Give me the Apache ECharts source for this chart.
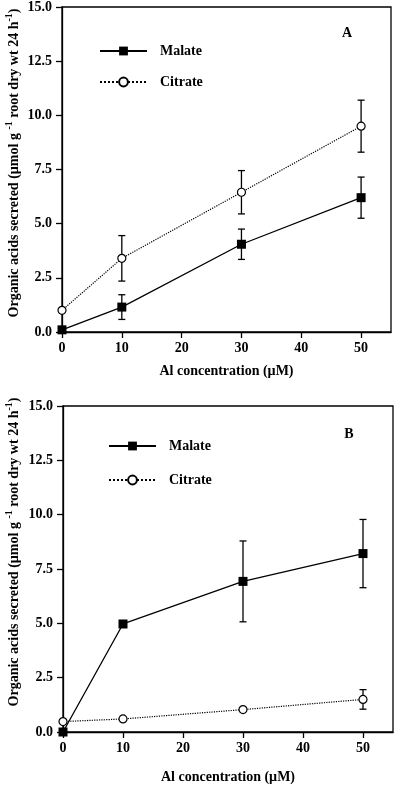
<!DOCTYPE html>
<html>
<head>
<meta charset="utf-8">
<script src="https://cdn.jsdelivr.net/npm/echarts@6/dist/echarts.min.js"></script>
<style>
html,body{margin:0;padding:0;background:#fff;}
#c{width:400px;height:788px;}
</style>
</head>
<body>
<div id="c"></div>
<script>
// Al concentration (µM)
const conc = [0, 10, 30, 50];
const xTicks = [0, 10, 20, 30, 40, 50];
// Panel A
const malateA = [0.1, 1.15, 4.05, 6.2];
const malateErrA = [0, 0.57, 0.7, 0.95];
const citrateA = [1.0, 3.4, 6.45, 9.5];
const citrateErrA = [0, 1.05, 1.0, 1.2];
// Panel B
const malateB = [0.0, 4.97, 6.93, 8.21];
const malateErrB = [0, 0, 1.86, 1.57];
const citrateB = [0.48, 0.6, 1.03, 1.5];
const citrateErrB = [0, 0, 0, 0.45];

const FONT = '"Liberation Serif", "Times New Roman", serif';

function pts(vals) { return conc.map((c, i) => [c, vals[i]]); }
function errs(vals, e) { return conc.map((c, i) => [c, vals[i] - e[i], vals[i] + e[i], e[i]]); }

function errRender(params, api) {
  const e = api.value(3);
  if (!e) return null;
  const x = api.value(0);
  const top = api.coord([x, api.value(2)]);
  const bot = api.coord([x, api.value(1)]);
  const w = 3.5;
  const st = { stroke: '#000', lineWidth: 1.3 };
  return {
    type: 'group',
    children: [
      { type: 'line', shape: { x1: top[0], y1: top[1], x2: bot[0], y2: bot[1] }, style: st },
      { type: 'line', shape: { x1: top[0] - w, y1: top[1], x2: top[0] + w, y2: top[1] }, style: st },
      { type: 'line', shape: { x1: bot[0] - w, y1: bot[1], x2: bot[0] + w, y2: bot[1] }, style: st }
    ]
  };
}

function xAxisFor(gi, gap) {
  return {
    type: 'value', gridIndex: gi, min: 0, max: 55,
    name: 'Al concentration (µM)', nameLocation: 'middle', nameGap: gap,
    nameTextStyle: { fontFamily: FONT, fontWeight: 'bold', fontSize: 14, color: '#000' },
    splitLine: { show: false },
    axisLine: { lineStyle: { color: '#000', width: 1.3 } },
    axisTick: { show: true, length: 6, inside: false, customValues: xTicks, lineStyle: { color: '#000', width: 1.3 } },
    axisLabel: { customValues: xTicks, margin: 9, fontFamily: FONT, fontWeight: 'bold', fontSize: 14, color: '#000' }
  };
}
function yAxisFor(gi) {
  return {
    type: 'value', gridIndex: gi, min: 0, max: 15, interval: 2.5,
    splitLine: { show: false },
    axisLine: { show: true, lineStyle: { color: '#000', width: 1.3 } },
    axisTick: { show: true, length: 6, inside: false, lineStyle: { color: '#000', width: 1.3 } },
    axisLabel: { margin: 10, fontFamily: FONT, fontWeight: 'bold', fontSize: 14, color: '#000',
      formatter: v => v.toFixed(1) }
  };
}

function malateSeries(gi, vals) {
  return {
    name: 'Malate', type: 'line', xAxisIndex: gi, yAxisIndex: gi, data: pts(vals),
    symbol: 'rect', symbolSize: 9, clip: false, z: 5,
    lineStyle: { color: '#000', width: 1.3, type: 'solid' },
    itemStyle: { color: '#000' }
  };
}
function citrateSeries(gi, vals) {
  return {
    name: 'Citrate', type: 'line', xAxisIndex: gi, yAxisIndex: gi, data: pts(vals),
    symbol: 'circle', symbolSize: 8, clip: false, z: 5,
    lineStyle: { color: '#000', width: 1.2, type: 'dotted' },
    itemStyle: { color: '#fff', borderColor: '#000', borderWidth: 1.2 }
  };
}
function errSeries(gi, vals, e) {
  return {
    type: 'custom', xAxisIndex: gi, yAxisIndex: gi, data: errs(vals, e),
    renderItem: errRender, clip: false, z: 3, silent: true
  };
}

function legendFor(left, top, gap) {
  return {
    orient: 'vertical', left: left, top: top, padding: 0, itemWidth: 47, itemHeight: 11, itemGap: gap,
    data: ['Malate', 'Citrate'],
    textStyle: { fontFamily: FONT, fontWeight: 'bold', fontSize: 14, color: '#000', padding: [0, 0, 0, 8] }
  };
}

const yTitle = '{n|Organic acids secreted (µmol g }{s|-1}{n| root dry wt 24 h}{s|-1}{n|)}';
const rich = {
  n: { fontFamily: FONT, fontWeight: 'bold', fontSize: 14, fill: '#000', lineHeight: 17, verticalAlign: 'bottom' },
  s: { fontFamily: FONT, fontWeight: 'bold', fontSize: 10, fill: '#000', lineHeight: 17, verticalAlign: 'top' }
};

const chart = echarts.init(document.getElementById('c'), null, { renderer: 'canvas' });
chart.setOption({
  animation: false,
  backgroundColor: '#fff',
  grid: [
    { left: 62, right: 9, top: 7, height: 325, show: true, borderColor: '#000', borderWidth: 1.3, backgroundColor: 'transparent' },
    { left: 63, right: 7, top: 406, height: 326, show: true, borderColor: '#000', borderWidth: 1.3, backgroundColor: 'transparent' }
  ],
  xAxis: [xAxisFor(0, 32), xAxisFor(1, 38)],
  yAxis: [yAxisFor(0), yAxisFor(1)],
  legend: [legendFor(99, 44, 17), legendFor(108, 439, 20)],
  series: [
    errSeries(0, malateA, malateErrA),
    errSeries(0, citrateA, citrateErrA),
    malateSeries(0, malateA),
    citrateSeries(0, citrateA),
    errSeries(1, malateB, malateErrB),
    errSeries(1, citrateB, citrateErrB),
    malateSeries(1, malateB),
    citrateSeries(1, citrateB)
  ],
  graphic: [
    { type: 'text', x: 13, y: 163, rotation: Math.PI / 2,
      style: { text: yTitle, rich: rich, align: 'center', verticalAlign: 'middle' } },
    { type: 'text', x: 13, y: 552, rotation: Math.PI / 2,
      style: { text: yTitle, rich: rich, align: 'center', verticalAlign: 'middle' } },
    { type: 'text', x: 347, y: 33,
      style: { text: 'A', font: 'bold 14px ' + FONT, fill: '#000', align: 'center', verticalAlign: 'middle' } },
    { type: 'text', x: 349, y: 434,
      style: { text: 'B', font: 'bold 14px ' + FONT, fill: '#000', align: 'center', verticalAlign: 'middle' } }
  ]
});
</script>
</body>
</html>
